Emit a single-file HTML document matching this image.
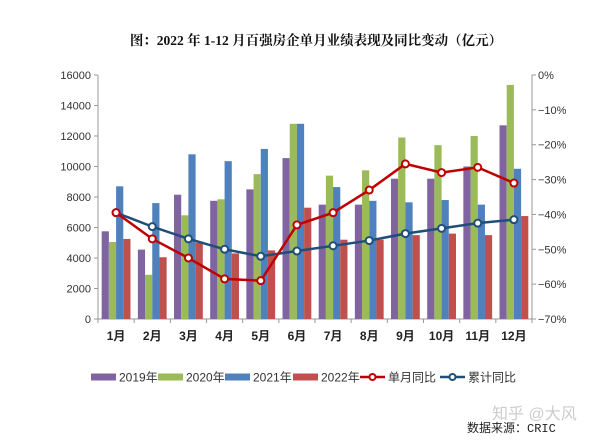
<!DOCTYPE html>
<html><head><meta charset="utf-8"><style>
body{margin:0;background:#fff;}
svg{display:block;font-family:"Liberation Sans","Noto Sans CJK SC",sans-serif;}
</style></head><body>
<svg id="chart" width="614" height="447" viewBox="0 0 614 447" xmlns="http://www.w3.org/2000/svg">
<text x="316" y="45" text-anchor="middle" font-size="13.5" font-weight="bold" fill="#111" font-family="'Liberation Serif','Noto Serif CJK SC',serif">图：2022 年 1-12 月百强房企单月业绩表现及同比变动（亿元）</text>
<g id="plot"></g>
<text x="492" y="419" font-size="16" fill="#ccc">知乎 @大风</text>
<text x="467" y="432" font-size="12" fill="#222" font-family="'Liberation Mono','Noto Sans CJK SC',monospace">数据来源：CRIC</text>
</svg>
<script>
const categories=["1月","2月","3月","4月","5月","6月","7月","8月","9月","10月","11月","12月"];
const s2019=[5750,4550,8150,7750,8500,10550,7500,7500,9200,9200,10000,12700];
const s2020=[5050,2900,6800,7850,9500,12800,9400,9750,11900,11400,12000,15350];
const s2021=[8700,7600,10800,10350,11150,12800,8650,7750,7650,7800,7500,9850];
const s2022=[5250,4050,5000,4300,4500,7300,5200,5200,5500,5600,5500,6750];
const monthlyYoY=[-39.5,-47,-52.5,-58.5,-59,-43,-39.5,-33,-25.5,-28,-26.5,-31];
const cumYoY=[-39.5,-43.5,-47,-50,-52,-50.5,-49,-47.5,-45.5,-44,-42.5,-41.5];
const leftTicks=[0,2000,4000,6000,8000,10000,12000,14000,16000];
const rightTicks=[0,-10,-20,-30,-40,-50,-60,-70];

const NS="http://www.w3.org/2000/svg";
const g=document.getElementById('plot');
const L=98,R=532,T=75,B=319;
const cw=(R-L)/categories.length;
const yL=v=>B-(v/16000)*(B-T);
const yR=v=>T+(-v/70)*(B-T);
const xC=i=>L+cw*(i+0.5);
function mk(tag,a){const e=document.createElementNS(NS,tag);for(const k in a)e.setAttribute(k,a[k]);g.appendChild(e);return e;}
// axes
let ax=mk('line',{x1:L,y1:T,x2:L,y2:B,stroke:'#999'});


ax=mk('line',{x1:R,y1:T,x2:R,y2:B,stroke:'#999'});


ax=mk('line',{x1:L,y1:B,x2:R,y2:B,stroke:'#999'});


leftTicks.forEach(v=>{const y=yL(v);mk('line',{x1:L-4,y1:y,x2:L,y2:y,stroke:'#999'});
const t=mk('text',{x:L-7,y:y+4,'text-anchor':'end','font-size':11,fill:'#333'});t.textContent=v;

});
rightTicks.forEach(v=>{const y=yR(v);mk('line',{x1:R,y1:y,x2:R+4,y2:y,stroke:'#999'});
const t=mk('text',{x:R+6,y:y+4,'font-size':11,fill:'#333'});t.textContent=(v===0?'0':'\u2212'+(-v))+'%';

});
for(let i=0;i<=categories.length;i++){const x=L+cw*i;mk('line',{x1:x,y1:B,x2:x,y2:B+4,stroke:'#999'});}
categories.forEach((c,i)=>{const t=mk('text',{x:xC(i),y:B+21,'text-anchor':'middle','font-size':12,'font-weight':'bold',fill:'#222'});t.textContent=c;

});
const series=[[s2019,'#8064a2','2019'],[s2020,'#9bbb59','2020'],[s2021,'#4f81bd','2021'],[s2022,'#c0504d','2022']];
const bw=7.2;
series.forEach(([d,col,n],si)=>{d.forEach((v,i)=>{const x=xC(i)-2*bw+si*bw;
const r=mk('rect',{x:x,y:yL(v),width:bw,height:B-yL(v),fill:col});

});});
function line(d,col,n){const p=mk('polyline',{points:d.map((v,i)=>xC(i)+','+yR(v)).join(' '),fill:'none',stroke:col,'stroke-width':2.5});


d.forEach((v,i)=>{const c=mk('circle',{cx:xC(i),cy:yR(v),r:3.5,fill:'#fff',stroke:col,'stroke-width':2});

});}
line(cumYoY,'#1f4e79','cumulative-yoy');
line(monthlyYoY,'#c00000','monthly-yoy');
// legend
const leg=[['rect','#8064a2','2019年',91],['rect','#9bbb59','2020年',158],['rect','#4f81bd','2021年',225],['rect','#c0504d','2022年',293],['line','#c00000','单月同比',360],['line','#1f4e79','累计同比',440]];
leg.forEach(([k,col,lab,x])=>{const y=377;
if(k==='rect'){mk('rect',{x:x,y:y-3.5,width:25,height:7,fill:col});}
else{mk('line',{x1:x,y1:y,x2:x+25,y2:y,stroke:col,'stroke-width':2.5});mk('circle',{cx:x+12.5,cy:y,r:3,fill:'#fff',stroke:col,'stroke-width':2});}
const t=mk('text',{x:x+28,y:y+4.5,'font-size':12,fill:'#333'});t.textContent=lab;

});
</script>
</body></html>
